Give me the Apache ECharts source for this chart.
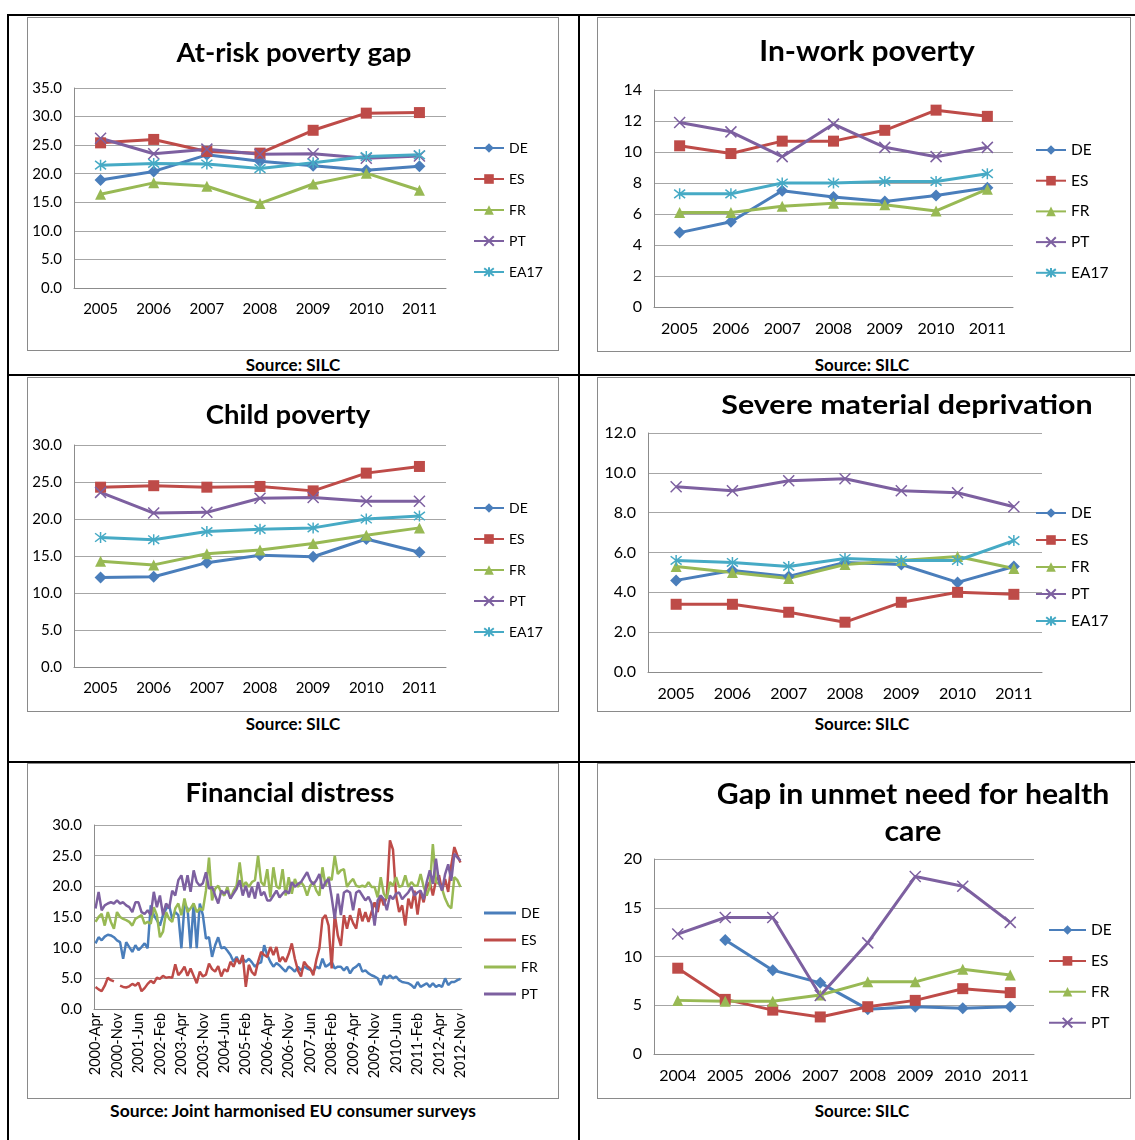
<!DOCTYPE html>
<html><head><meta charset="utf-8">
<script src="https://cdn.jsdelivr.net/npm/echarts/dist/echarts.min.js"></script>
<style>
body{margin:0;background:#fff;width:1135px;height:1140px;position:relative;overflow:hidden;font-family:Lato,"Open Sans",sans-serif;}
.hl{position:absolute;background:#000;height:2px;}
.vl{position:absolute;background:#000;width:2px;}
.box{position:absolute;border:1px solid #8a8a8a;box-sizing:border-box;}
.chart{position:absolute;}
.src{position:absolute;font-weight:bold;font-size:17px;transform:translate(-50%,-50%);white-space:nowrap;color:#000;}
</style></head><body>
<div class="hl" style="left:8px;top:14px;width:1127px"></div>
<div class="hl" style="left:8px;top:374px;width:1127px"></div>
<div class="hl" style="left:8px;top:761px;width:1127px"></div>
<div class="vl" style="left:7px;top:14px;height:1126px"></div>
<div class="vl" style="left:578px;top:14px;height:1126px"></div>

<div class="box" style="left:27px;top:17px;width:532px;height:334px"></div>
<div class="box" style="left:597px;top:17px;width:534px;height:335px"></div>
<div class="box" style="left:27px;top:377px;width:532px;height:335px"></div>
<div class="box" style="left:597px;top:377px;width:534px;height:335px"></div>
<div class="box" style="left:27px;top:763px;width:532px;height:336px"></div>
<div class="box" style="left:597px;top:763px;width:534px;height:336px"></div>

<div id="c1" class="chart" style="left:27px;top:17px;width:531px;height:333px"></div>
<div id="c2" class="chart" style="left:597px;top:17px;width:533px;height:334px"></div>
<div id="c3" class="chart" style="left:27px;top:377px;width:531px;height:334px"></div>
<div id="c4" class="chart" style="left:597px;top:377px;width:533px;height:334px"></div>
<div id="c5" class="chart" style="left:27px;top:763px;width:531px;height:335px"></div>
<div id="c6" class="chart" style="left:597px;top:763px;width:533px;height:335px"></div>

<div class="src" style="left:293px;top:364px">Source: SILC</div>
<div class="src" style="left:862px;top:364px">Source: SILC</div>
<div class="src" style="left:293px;top:723px">Source: SILC</div>
<div class="src" style="left:862px;top:723px">Source: SILC</div>
<div class="src" style="left:293px;top:1110px;font-size:17.5px">Source: Joint harmonised EU consumer surveys</div>
<div class="src" style="left:862px;top:1110px">Source: SILC</div>

<script>
// ---------- DATA ----------
const years = ['2005','2006','2007','2008','2009','2010','2011'];
const healthYears = ['2004','2005','2006','2007','2008','2009','2010','2011'];

const gapDE   = [18.9, 20.4, 23.3, 22.2, 21.4, 20.6, 21.3];
const gapES   = [25.4, 26.0, 23.9, 23.6, 27.6, 30.6, 30.7];
const gapFR   = [16.4, 18.4, 17.8, 14.8, 18.2, 20.1, 17.1];
const gapPT   = [26.2, 23.5, 24.3, 23.4, 23.5, 22.7, 23.1];
const gapEA17 = [21.5, 21.8, 21.7, 20.9, 21.9, 23.0, 23.3];

const workDE   = [4.8, 5.5, 7.5, 7.1, 6.8, 7.2, 7.7];
const workES   = [10.4, 9.9, 10.7, 10.7, 11.4, 12.7, 12.3];
const workFR   = [6.1, 6.1, 6.5, 6.7, 6.6, 6.2, 7.6];
const workPT   = [11.9, 11.3, 9.7, 11.8, 10.3, 9.7, 10.3];
const workEA17 = [7.3, 7.3, 8.0, 8.0, 8.1, 8.1, 8.6];

const childDE   = [12.1, 12.2, 14.1, 15.1, 14.9, 17.3, 15.5];
const childES   = [24.3, 24.5, 24.3, 24.4, 23.8, 26.2, 27.1];
const childFR   = [14.3, 13.8, 15.3, 15.8, 16.7, 17.8, 18.8];
const childPT   = [23.6, 20.8, 20.9, 22.8, 22.9, 22.4, 22.4];
const childEA17 = [17.5, 17.2, 18.3, 18.6, 18.8, 20.0, 20.4];

const smdDE   = [4.6, 5.1, 4.8, 5.5, 5.4, 4.5, 5.3];
const smdES   = [3.4, 3.4, 3.0, 2.5, 3.5, 4.0, 3.9];
const smdFR   = [5.3, 5.0, 4.7, 5.4, 5.6, 5.8, 5.2];
const smdPT   = [9.3, 9.1, 9.6, 9.7, 9.1, 9.0, 8.3];
const smdEA17 = [5.6, 5.5, 5.3, 5.7, 5.6, 5.6, 6.6];

const healthDE = [null, 11.7, 8.6, 7.3, 4.6, 4.85, 4.7, 4.85];
const healthES = [8.8, 5.6, 4.5, 3.8, 4.85, 5.5, 6.7, 6.3];
const healthFR = [5.5, 5.4, 5.4, 6.05, 7.4, 7.4, 8.7, 8.1];
const healthPT = [12.3, 14.0, 14.0, 6.0, 11.4, 18.2, 17.2, 13.5];

// Financial distress: 120 survey points, a tick label every 7th point
const finTickLabels = ['2000-Apr','2000-Nov','2001-Jun','2002-Feb','2003-Apr','2003-Nov','2004-Jun','2005-Feb','2006-Apr','2006-Nov','2007-Jun','2008-Feb','2009-Apr','2009-Nov','2010-Jun','2011-Feb','2012-Apr','2012-Nov'];
const finDE = [
10.7,11.7,11.2,11.8,12.1,12.0,11.7,11.2,10.9,8.2,
10.9,10.1,9.3,10.4,9.6,10.1,10.7,9.9,16.9,15.3,
14.5,13.6,15.3,16.3,16.9,14.7,15.8,15.3,9.9,16.9,
16.4,9.9,17.2,9.9,17.2,15.3,11.5,11.7,8.5,10.4,
11.7,9.9,10.1,9.5,8.8,7.7,8.5,7.4,8.2,7.7,
8.2,7.6,6.9,7.4,7.6,10.4,8.8,7.7,6.9,7.5,
7.1,6.6,6.1,6.9,6.6,6.1,6.9,6.3,6.9,6.6,
6.4,6.1,6.9,6.6,8.2,6.9,7.2,7.7,6.6,6.9,
6.9,6.3,6.9,5.8,6.6,6.9,7.4,6.1,6.3,5.8,
5.5,5.3,5.0,3.9,5.5,5.0,5.5,5.0,5.3,4.7,
4.4,4.3,4.2,3.9,3.4,4.4,3.6,3.9,4.2,3.6,
4.2,3.6,3.9,3.6,5.0,3.9,4.4,4.4,4.7,4.9];
const finES = [
3.6,3.2,2.9,3.8,5.1,4.7,4.5,null,3.8,3.6,
3.5,3.7,4.1,3.8,4.3,2.9,3.4,4.1,4.6,4.2,
5.1,4.9,5.4,5.1,5.2,5.1,7.3,5.5,6.1,6.9,
5.4,6.6,5.4,4.2,6.1,5.3,5.6,7.4,6.5,6.1,
7.0,5.3,6.5,6.1,7.7,6.9,8.2,7.4,8.8,3.6,
7.2,6.0,5.5,7.7,9.3,8.8,8.5,10.1,8.8,10.1,
7.7,8.5,7.7,9.0,10.7,8.2,6.3,5.3,7.7,7.0,
6.6,5.5,8.0,9.9,14.7,15.3,13.6,6.6,15.5,12.0,
10.3,15.3,13.1,15.3,14.0,13.1,16.4,14.3,15.8,14.2,
15.8,17.4,15.8,18.5,16.9,18.5,27.5,26.0,18.5,15.8,
16.9,13.6,18.0,16.4,19.3,15.4,19.1,17.4,19.9,20.7,
18.5,20.9,21.8,19.3,21.2,19.1,23.4,26.4,25.0,23.9];
const finFR = [
14.2,15.0,15.5,13.6,15.8,14.2,13.1,15.8,15.0,14.7,
14.5,14.2,13.6,14.7,15.0,15.3,13.9,14.2,13.9,16.6,
15.3,11.7,12.6,15.8,14.7,14.2,16.4,17.2,15.3,18.0,
15.8,16.4,17.2,15.8,16.4,16.1,19.3,24.7,17.7,19.6,
20.1,19.0,18.5,19.9,18.0,19.3,20.1,23.9,19.9,20.7,
19.9,20.7,21.0,25.0,20.7,20.1,22.8,18.2,23.1,20.0,
19.6,22.8,18.5,21.5,18.8,21.2,19.9,20.7,20.0,18.5,
20.1,20.7,19.3,18.5,23.1,20.1,21.5,21.0,25.0,22.0,
22.6,22.8,19.9,20.7,21.2,20.1,19.9,20.1,19.9,20.7,
19.9,19.9,18.2,21.5,18.8,18.0,20.7,20.1,21.5,19.9,
20.1,21.8,19.9,20.7,20.1,20.1,22.0,19.9,18.5,19.9,
26.9,20.7,20.4,19.6,18.0,16.9,16.4,21.5,21.0,19.9];
const finPT = [
16.4,19.1,16.1,16.9,17.2,17.4,17.2,17.7,17.2,17.4,
16.9,16.6,15.8,17.4,17.4,15.8,15.5,16.1,15.3,19.1,
16.6,18.5,15.3,17.2,16.4,19.3,18.5,21.0,21.8,19.3,
21.8,19.1,22.6,20.7,20.1,20.5,22.3,19.6,19.9,18.5,
17.2,19.3,18.8,19.3,18.0,18.8,19.6,21.0,18.5,20.1,
18.2,19.9,18.0,20.7,18.5,19.1,17.7,17.7,18.5,19.3,
18.2,18.8,19.3,18.8,20.7,19.9,20.4,20.7,21.5,22.3,
21.0,20.3,21.0,22.0,19.6,20.7,21.2,18.2,14.7,18.8,
15.3,19.0,19.3,19.0,16.1,19.0,19.3,18.5,17.7,18.3,
17.2,13.6,17.7,18.5,17.9,16.1,18.5,17.9,18.8,19.0,
17.9,18.5,19.0,19.9,18.5,19.0,19.3,17.9,20.7,22.6,
20.4,24.5,20.7,19.3,22.0,23.6,20.9,25.3,24.7,24.2];

// ---------- STYLE ----------
const FONT = 'Lato';
const COLORS = {DE:'#4A7EBB', ES:'#BE4B48', FR:'#98B954', PT:'#7D60A0', EA17:'#46AAC5'};
const SYMBOLS = {
  DE:'diamond', ES:'rect', FR:'triangle',
  PT:'path://M0,0L10,10M10,0L0,10',
  EA17:'path://M0,0L10,10M10,0L0,10M5,-1.5L5,11.5'
};
const SYMSIZE = {DE:12, ES:11, FR:11, PT:11, EA17:11};

function markerSeries(name, data) {
  const stroke = (name === 'PT' || name === 'EA17');
  return {
    name, type:'line', data,
    symbol: SYMBOLS[name], symbolSize: SYMSIZE[name], showAllSymbol:true,
    lineStyle:{color:COLORS[name], width:3},
    itemStyle: stroke ? {color:COLORS[name], borderColor:COLORS[name], borderWidth:1.5}
                      : {color:COLORS[name], borderWidth:0},
    emphasis:{disabled:true}, animation:false
  };
}

function baseOption(p) {
  const lg = p.legend;
  const legend = {orient:'vertical', left:lg[0], top:lg[1], itemGap:lg[2], padding:0,
      itemWidth:lg[3] || 30, itemHeight:12,
      textStyle:{fontSize:p.legendFont || 14, color:'#000', fontFamily:FONT, lineHeight:14}, selectedMode:false,
      data:p.names};
  if (p.plainLegend) {
    legend.itemHeight = 3;
    legend.data = p.names.map(n => ({name:n, icon:'rect'}));
  }
  return {
    animation:false,
    textStyle:{fontFamily:FONT},
    grid:{left:p.grid[0], right:p.grid[1], top:p.grid[2], bottom:p.grid[3], containLabel:false, outerBoundsMode:'none'},
    graphic: p.titles.map(t => ({type:'text', x:t[1], y:t[2], silent:true, scaleX:t[4] || 1,
      style:{text:t[0], align:'center', verticalAlign:'middle', font:'bold '+t[3]+'px '+FONT, fill:'#000'}})),
    legend,
    xAxis:{type:'category', data:p.cats, boundaryGap:true,
      axisTick:{show:false}, axisLine:{lineStyle:{color:'#8c8c8c', width:1}},
      axisLabel:Object.assign({color:'#000', fontSize:p.tickFont || 15, fontFamily:FONT, margin:14, interval:0}, p.xLabel || {})},
    yAxis:{type:'value', min:0, max:p.yMax, interval:p.yInt,
      axisLine:{show:true, lineStyle:{color:'#8c8c8c', width:1}}, axisTick:{show:false},
      splitLine:{lineStyle:{color:'#a6a6a6', width:1}},
      axisLabel:{color:'#000', fontSize:p.tickFont || 15, fontFamily:FONT, margin:12,
        formatter: v => p.dec ? v.toFixed(1) : String(v)}},
    series:p.series
  };
}

function render(id, opt) {
  const c = echarts.init(document.getElementById(id), null, {renderer:'canvas'});
  c.setOption(opt);
}

// 1. At-risk poverty gap
render('c1', baseOption({
  grid:[47,112,71,62], titles:[['At-risk poverty gap',267,36,27.5]],
  legend:[446,124,17], names:['DE','ES','FR','PT','EA17'], cats:years, yMax:35, yInt:5, dec:true,
  series:[markerSeries('DE',gapDE), markerSeries('ES',gapES), markerSeries('FR',gapFR), markerSeries('PT',gapPT), markerSeries('EA17',gapEA17)]
}));

// 2. In-work poverty
render('c2', baseOption({
  grid:[57,117,73,44], titles:[['In-work poverty',270,35,28,1.07]],
  legend:[438,125,14.7], legendFont:15.5, tickFont:16, names:['DE','ES','FR','PT','EA17'], cats:years, yMax:14, yInt:2, dec:false,
  series:[markerSeries('DE',workDE), markerSeries('ES',workES), markerSeries('FR',workFR), markerSeries('PT',workPT), markerSeries('EA17',workEA17)]
}));

// 3. Child poverty
render('c3', baseOption({
  grid:[47,112,68,44], titles:[['Child poverty',261,38,27.5]],
  legend:[446,124,17], names:['DE','ES','FR','PT','EA17'], cats:years, yMax:30, yInt:5, dec:true,
  series:[markerSeries('DE',childDE), markerSeries('ES',childES), markerSeries('FR',childFR), markerSeries('PT',childPT), markerSeries('EA17',childEA17)]
}));

// 4. Severe material deprivation
render('c4', baseOption({
  grid:[51,88,56,39], titles:[['Severe material deprivation',310,29,26,1.17]],
  legend:[438,128,11], legendFont:15.5, tickFont:16, names:['DE','ES','FR','PT','EA17'], cats:years, yMax:12, yInt:2, dec:true,
  series:[markerSeries('DE',smdDE), markerSeries('ES',smdES), markerSeries('FR',smdFR), markerSeries('PT',smdPT), markerSeries('EA17',smdEA17)]
}));

// 5. Financial distress
const finCats = finDE.map((_, i) => String(i));
function finSeries(name, data) {
  return {name, type:'line', data, showSymbol:false, symbol:'none',
    lineStyle:{color:COLORS[name], width:2.5}, itemStyle:{color:COLORS[name]},
    emphasis:{disabled:true}, animation:false};
}
render('c5', baseOption({
  grid:[67,96,62,89], titles:[['Financial distress',263,30,27.5]],
  legend:[457,143,13,32], plainLegend:true, names:['DE','ES','FR','PT'], cats:finCats, yMax:30, yInt:5, dec:true,
  xLabel:{rotate:90, interval:6, margin:4, fontSize:14.5, formatter:(v, i) => finTickLabels[Math.round(i/7)]},
  series:[finSeries('DE',finDE), finSeries('ES',finES), finSeries('FR',finFR), finSeries('PT',finPT)]
}));

// 6. Gap in unmet need for health care
render('c6', baseOption({
  grid:[57,96,96,44], titles:[['Gap in unmet need for health',316,32,28,1.08],['care',316,69,28,1.08]],
  legend:[451,159,14.9,37], legendFont:15.5, tickFont:16, names:['DE','ES','FR','PT'], cats:healthYears, yMax:20, yInt:5, dec:false,
  series:[markerSeries('DE',healthDE), markerSeries('ES',healthES), markerSeries('FR',healthFR), markerSeries('PT',healthPT)]
}));
</script>
</body></html>
